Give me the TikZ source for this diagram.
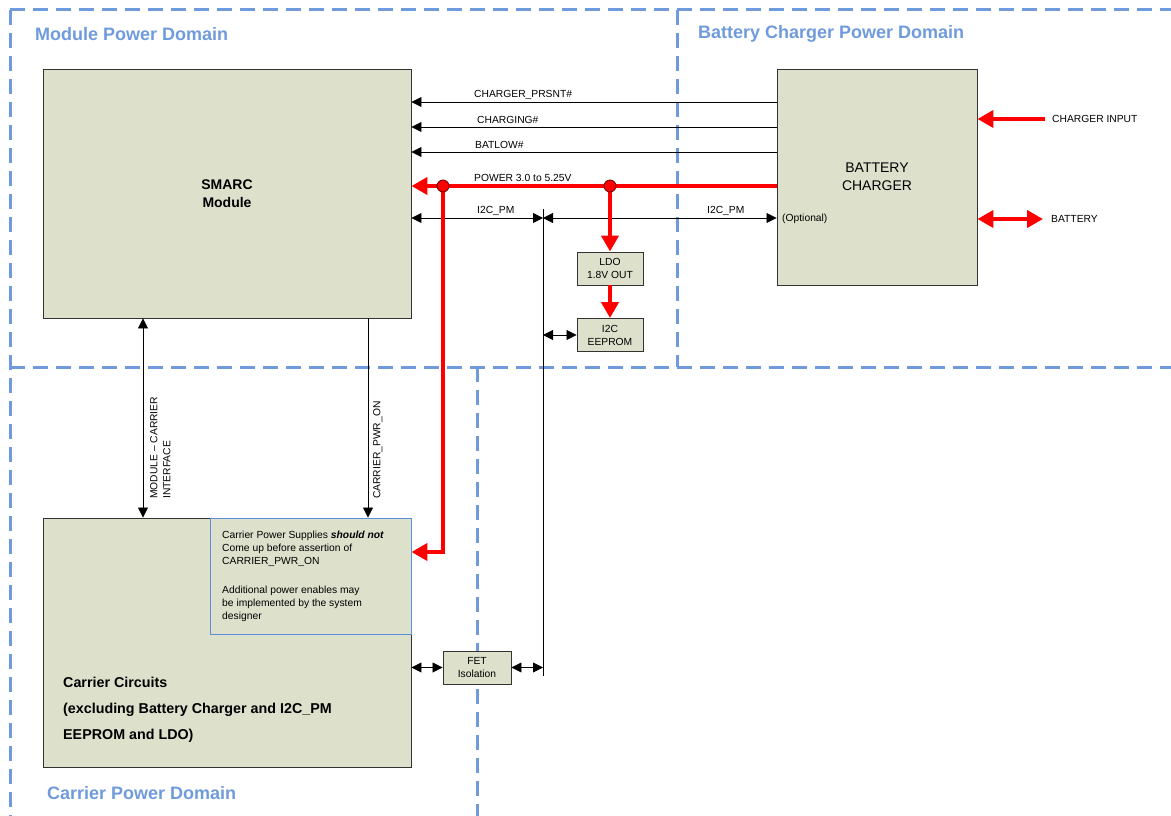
\documentclass[tikz,border=0pt]{standalone}
\usepackage{fontspec}
\setmainfont{Liberation Sans}
\usetikzlibrary{arrows.meta}

\definecolor{domblue}{HTML}{6F9BDC}
\definecolor{boxfill}{HTML}{DDE1CC}
\definecolor{noteblue}{HTML}{5B8FDA}

\begin{document}
\begin{tikzpicture}[x=1pt,y=-1pt,
  blk/.style={draw=black!80,line width=0.9pt,fill=boxfill,inner sep=0pt,align=center},
  small/.style={font=\fontsize{10.3}{13}\selectfont},
  sig/.style={line width=0.8pt,-{Triangle[length=10pt,width=10pt]}},
  bidi/.style={line width=0.8pt,{Triangle[length=10pt,width=10pt]}-{Triangle[length=10pt,width=10pt]}},
  pwrarr/.style={red,line width=4pt,-{Triangle[length=16pt,width=17pt]}},
  pwrbi/.style={red,line width=4pt,{Triangle[length=16pt,width=17pt]}-{Triangle[length=16pt,width=17pt]}},
  tap/.style={circle,fill=red,draw=black!60!red,line width=0.8pt,minimum size=12pt,inner sep=0pt},
  lbl/.style={small,inner sep=0pt,anchor=west},
  dom/.style={domblue,line width=3pt,dash pattern=on 15pt off 8pt},
  domlbl/.style={text=domblue,font=\fontsize{18}{20}\selectfont\bfseries,inner sep=0pt,anchor=west}]
  \useasboundingbox (0,0) rectangle (1171,816);

  % power domain borders
  \draw[dom] (10,10) -- (1171,10);
  \draw[dom] (10,10) -- (10,816);
  \draw[dom] (677,10) -- (677,367);
  \draw[dom] (10,367) -- (1171,367);
  \draw[dom] (477,367) -- (477,816);
  \node[domlbl] (dmod) at (35,34) {Module Power Domain};
  \node[domlbl] (dchg) at (698,34) {Battery Charger Power Domain};
  \node[domlbl] (dcar) at (47,793) {Carrier Power Domain};

  % blocks
  \node[blk,minimum width=368pt,minimum height=249pt,
    font=\fontsize{14}{18}\selectfont\bfseries] (smarc) at (227,193.5) {SMARC\\Module};
  \node[blk,minimum width=200pt,minimum height=216pt,
    font=\fontsize{14}{18}\selectfont] (charger) at (877,177) {BATTERY\\CHARGER};
  \node[blk,minimum width=368pt,minimum height=249pt] (carrier) at (227,642.5) {};
  \node[blk,small,minimum width=66pt,minimum height=33pt] (ldo) at (610,268.5) {LDO\\1.8V OUT};
  \node[blk,small,minimum width=66pt,minimum height=33pt] (eeprom) at (610,335) {I2C\\EEPROM};
  \node[blk,small,minimum width=68pt,minimum height=33pt] (fet) at (477,667.5) {FET\\Isolation};

  % status signals charger -> module
  \draw[sig] (charger.west|-0,102) -- (smarc.east|-0,102);
  \draw[sig] (charger.west|-0,127) -- (smarc.east|-0,127);
  \draw[sig] (charger.west|-0,152) -- (smarc.east|-0,152);
  \node[lbl] (lprsnt) at (474,95) {CHARGER\_PRSNT\#};
  \node[lbl] (lchging) at (477,120) {CHARGING\#};
  \node[lbl] (lbatlow) at (475,145) {BATLOW\#};

  % I2C_PM bus
  \coordinate (bustop) at (543,209);
  \coordinate (busbot) at (543,676);
  \draw[line width=0.8pt] (bustop) -- (busbot);
  \draw[bidi] (smarc.east|-0,218) -- (bustop|-0,218);
  \draw[bidi] (bustop|-0,218) -- (charger.west|-0,218);
  \draw[bidi] (bustop|-eeprom) -- (eeprom.west);
  \draw[bidi] (carrier.east|-fet) -- (fet.west);
  \draw[bidi] (fet.east) -- (bustop|-fet);
  \node[lbl] (li2ca) at (477,211) {I2C\_PM};
  \node[lbl] (li2cb) at (707,211) {I2C\_PM};
  \node[lbl] (lopt) at (782,219) {(Optional)};

  % power rail
  \coordinate (tapa) at (443,186);
  \coordinate (tapb) at (610,186);
  \draw[pwrarr] (charger.west|-tapa) -- (smarc.east|-tapa);
  \draw[pwrarr] (tapa) |- (carrier.east|-0,552);
  \draw[pwrarr] (tapb) -- (ldo.north);
  \draw[pwrarr] (ldo.south) -- (eeprom.north);
  \node[tap] (dota) at (tapa) {};
  \node[tap] (dotb) at (tapb) {};
  \node[lbl] (lpwr) at (474,178) {POWER 3.0 to 5.25V};

  % charger input / battery
  \coordinate (chgin) at (1045,119);
  \coordinate (batt) at (1043,219);
  \draw[pwrarr] (chgin) -- (charger.east|-chgin);
  \draw[pwrbi] (charger.east|-batt) -- (batt);
  \node[lbl] (lchgin) at (1052,119) {CHARGER INPUT};
  \node[lbl] (lbatt) at (1051,219) {BATTERY};

  % module <-> carrier
  \draw[bidi] (smarc.south-|143,0) -- (carrier.north-|143,0);
  \draw[sig] (smarc.south-|368,0) -- (carrier.north-|368,0);
  \node[small,rotate=90,anchor=north west,inner sep=0pt,align=left] (lmci) at (150,499)
    {MODULE -- CARRIER\\INTERFACE};
  \node[small,rotate=90,anchor=north west,inner sep=0pt] (lpwron) at (373,499) {CARRIER\_PWR\_ON};

  % note inside carrier block
  \node[draw=noteblue,line width=0.6pt,minimum width=201pt,minimum height=116pt,
    inner sep=0pt,anchor=north east] (note) at (carrier.north east) {};
  \node[small,anchor=north west,inner sep=0pt,align=left] (notetxt) at (222,531)
    {Carrier Power Supplies \textbf{\textit{should not}}\\
     Come up before assertion of\\
     CARRIER\_PWR\_ON\\[16pt]
     Additional power enables may\\
     be implemented by the system\\
     designer};
  \node[font=\fontsize{14.3}{26}\selectfont\bfseries,anchor=west,inner sep=0pt,align=left]
    (cartxt) at (63,710)
    {Carrier Circuits\\(excluding Battery Charger and I2C\_PM\\EEPROM and LDO)};
\end{tikzpicture}
\end{document}
